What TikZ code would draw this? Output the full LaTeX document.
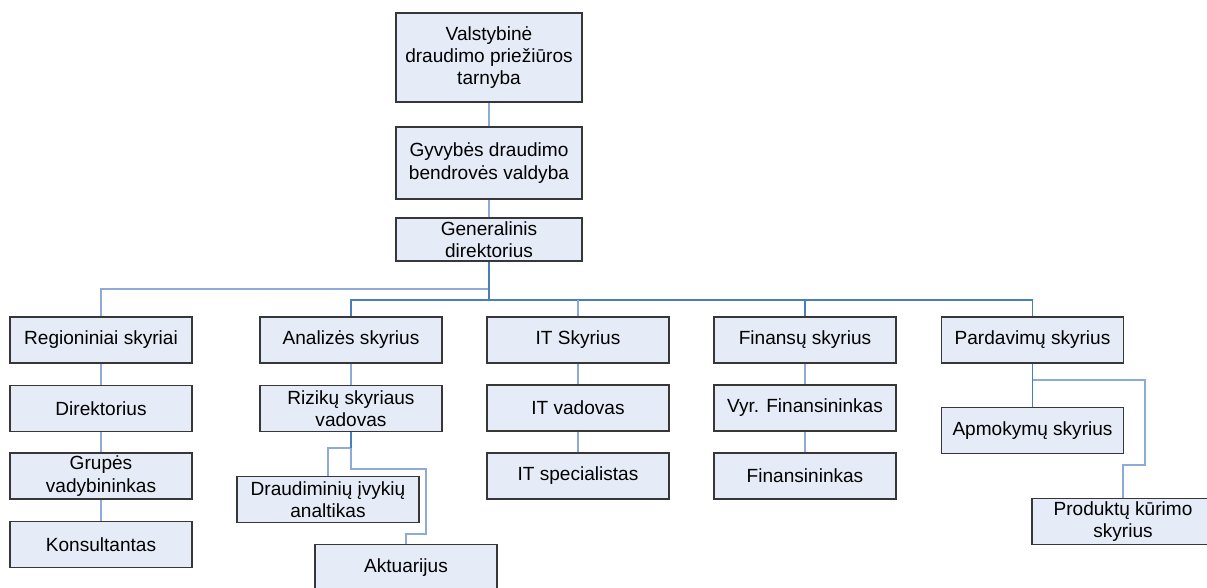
\documentclass[tikz,border=0pt]{standalone}
\usepackage{fontspec}
\setmainfont{Liberation Sans}
\definecolor{boxfill}{RGB}{230,236,247}
\definecolor{boxline}{RGB}{55,55,55}
\definecolor{linkdark}{RGB}{74,126,187}
\definecolor{linklight}{RGB}{142,170,215}
\tikzset{
  unit/.style={draw=boxline, line width=0.85pt, fill=boxfill, align=center,
    inner sep=0pt, minimum width=136.5pt, minimum height=34.5pt,
    font=\fontsize{14.3}{16.6}\selectfont},
  linkd/.style={draw=linkdark, line width=0.9pt},
  linkl/.style={draw=linklight, line width=0.9pt},
}
\begin{document}
\begin{tikzpicture}[x=0.75pt, y=-0.75pt]
\useasboundingbox (0,0) rectangle (1207,587);
\clip (0,0) rectangle (1207,587);
\fill[white] (0,0) rectangle (1207,587);

% levels of the two horizontal buses
\coordinate (busU) at (0,289);
\coordinate (busL) at (0,300);

% top of the hierarchy
\node[unit, minimum width=139.5pt, minimum height=66.75pt] (vdpt) at (489,57.5)
  {Valstybinė\\draudimo priežiūros\\tarnyba};
\node[unit, minimum width=139.5pt, minimum height=54pt] (gdbv) at (489,163)
  {Gyvybės draudimo\\bendrovės valdyba};
\node[unit, minimum width=139.5pt, minimum height=32.25pt] (gdir) at (489,239.5)
  {Generalinis\\direktorius};

% departments
\node[unit] (reg) at (101,340) {Regioniniai skyriai};
\node[unit] (ana) at (351,340) {Analizės skyrius};
\node[unit] (its) at (578,340) {IT Skyrius};
\node[unit] (fin) at (805,340) {Finansų skyrius};
\node[unit] (par) at (1032.5,340) {Pardavimų skyrius};

% regional branch
\node[unit] (dir) at (101,408.5) {Direktorius};
\node[unit] (grp) at (101,476) {Grupės\\vadybininkas};
\node[unit] (kon) at (101,544.5) {Konsultantas};

% analysis branch
\node[unit] (riz) at (351,408.5) {Rizikų skyriaus\\vadovas};
\node[unit] (dra) at (328,499.5) {Draudiminių įvykių\\analtikas};
\node[unit] (akt) at (406,567.5) {Aktuarijus};

% IT branch
\node[unit] (itv) at (578,408) {IT vadovas};
\node[unit] (itsp) at (578,476) {IT specialistas};

% finance branch
\node[unit] (vyr) at (805,408) {Vyr. Finansininkas};
\node[unit] (fnn) at (805,476) {Finansininkas};

% sales branch
\node[unit] (apm) at (1032.5,430.5) {Apmokymų skyrius};
\node[unit] (pro) at (1123,521.5) {Produktų kūrimo\\skyrius};

% links between the boxes
\draw[linkl] (vdpt.south) -- (gdbv.north);
\draw[linkl] (gdbv.south) -- (gdir.north);
\draw[linkl] (gdir.south |- busU) -| (reg.north);
\draw[linkd] (ana.north) -- (ana.north |- busL) -- (par.north |- busL) -- (par.north);
\draw[linkl] (its.north) -- (its.north |- busL);
\draw[linkd] (fin.north) -- (fin.north |- busL);
\draw[linkd, line width=1.6pt] (gdir.south) -- (gdir.south |- busL);

\draw[linkl] (reg.south) -- (dir.north);
\draw[linkl] (dir.south) -- (grp.north);
\draw[linkl] (grp.south) -- (kon.north);

\draw[linkl] (ana.south) -- (riz.north);
\draw[linkl] (riz.south) -- (riz.south |- 0,448) -| (dra.north);
\draw[linkl] (riz.south) -- (riz.south |- 0,469) -| (426,534) -| (akt.north);
\draw[linkd] (riz.south) -- (riz.south |- 0,448);

\draw[linkl] (its.south) -- (itv.north);
\draw[linkl] (itv.south) -- (itsp.north);
\draw[linkl] (fin.south) -- (vyr.north);
\draw[linkl] (vyr.south) -- (fnn.north);

\draw[linkd] (par.south) -- (apm.north);
\draw[linkl] (par.south |- 0,380) -| (1145,465) -| (pro.north);
\end{tikzpicture}
\end{document}
